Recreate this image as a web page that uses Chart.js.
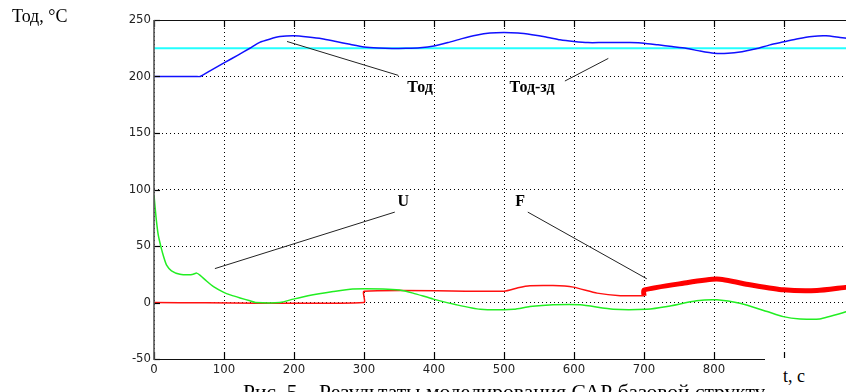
<!DOCTYPE html>
<html>
<head>
<meta charset="utf-8">
<script src="https://cdn.jsdelivr.net/npm/chart.js@4.4.1/dist/chart.umd.min.js"></script>
<style>
  html, body { margin: 0; padding: 0; background: #fff; }
  #wrap { position: relative; width: 846px; height: 392px; overflow: hidden; }
  canvas { position: absolute; left: 0; top: 0; }
  .serif { position: absolute; font-family: "Liberation Serif", "Times New Roman", serif; color: #000; white-space: nowrap; }
  #ylab { left: 12px; top: 6px; font-size: 18px; }
  #caption { left: 243px; top: 380px; font-size: 21.5px; }
  #tbox { left: 765px; top: 358px; width: 100px; height: 40px; background: #fff; }
  #tlab { left: 783px; top: 366px; font-size: 18px; }
</style>
</head>
<body>
<div id="wrap">
  <canvas id="chart" width="900" height="392"></canvas>
  <div class="serif" id="ylab">Тод, °C</div>
  <div class="serif" id="caption">Рис. 5 – Результаты моделирования САР базовой структуры</div>
  <div class="serif" id="tbox"></div>
  <div class="serif" id="tlab">t, c</div>
</div>
<script>
// time axis, s
const xTicks = [0, 100, 200, 300, 400, 500, 600, 700, 800, 900, 1000];
const yTicks = [-50, 0, 50, 100, 150, 200, 250];

// Тод
const todTime = [0, 60, 66, 80, 100, 120, 137, 151, 165, 180, 200, 220, 240, 260, 280, 300, 320, 340, 360, 380, 400, 420, 440, 460, 480, 500, 520, 540, 560, 580, 600, 620, 640, 660, 680, 700, 720, 740, 760, 780, 800, 820, 840, 860, 880, 900, 920, 940, 960, 980, 1000];
const todValue = [200, 200, 200, 205, 212, 219, 225, 230.2, 233, 235.3, 236, 235, 233.5, 231, 228.5, 226.2, 225.2, 224.8, 225, 225.5, 227, 230, 233.5, 236.5, 238.5, 239, 238.5, 237, 235, 232.5, 231, 230, 230, 230, 230, 229.5, 228, 226.5, 225, 222.5, 220.5, 220.5, 222, 224.5, 228, 230.7, 233.5, 235.5, 236, 234.5, 233];

// Тод-зд (setpoint)
const setTime = [0, 1000];
const setValue = [225, 225];

// U
const uTime = [0, 3, 6, 10, 14, 18, 25, 37, 50, 56, 61, 66, 75, 85, 99, 110, 123, 137, 145, 180, 199, 220, 256, 284, 327, 351, 370, 399, 432, 466, 514, 537, 570, 609, 656, 704, 733, 775, 804, 837, 876, 899, 923, 951, 990, 1000];
const uValue = [95, 75, 60, 49, 40, 33, 28, 25, 24.5, 25, 26, 24, 19, 14, 9.2, 6.5, 4, 1.5, 0, 0, 3, 6, 9.7, 12, 12, 11, 8.3, 3, -2, -6, -6, -3.6, -2, -2, -6, -6, -3.6, 1.5, 2.4, -0.6, -8, -12.5, -14.5, -14.5, -8, -6];

// F before and after the disturbance at 700 s
const fTime = [0, 300, 300, 500, 520, 537, 570, 599, 633, 666, 700];
const fValue = [0, 0, 10, 10, 13, 14.8, 15, 13.6, 8.3, 6, 6];
const fNoisyTime = [700, 700, 756, 804, 851, 899, 947, 990, 1000];
const fNoisyValue = [6, 11, 17, 20.7, 15.7, 11.2, 10.6, 13.6, 14];

// labels with leader lines: [text, labelX, labelY, lineFrom, lineTo]
const notes = [
  ["Тод", 380, 190, [190, 231], [349, 201]],
  ["Тод-зд", 540, 190, [587, 196], [649, 216]],
  ["U", 356, 89, [87, 30], [344, 80]],
  ["F", 523, 89, [534, 80], [704, 21]]
];

const pts = (xs, ys) => xs.map((x, i) => ({ x: x, y: ys[i] }));

const frame = {
  id: "frame",
  afterDatasetsDraw(chart) {
    const { ctx, chartArea: a, scales } = chart;
    const xs = scales.x, ys = scales.y;
    ctx.save();
    // leader lines and labels
    ctx.strokeStyle = "#222";
    ctx.lineWidth = 1;
    ctx.fillStyle = "#000";
    ctx.font = "bold 16px 'Liberation Serif', serif";
    ctx.textAlign = "center";
    ctx.textBaseline = "middle";
    notes.forEach(n => {
      ctx.beginPath();
      ctx.moveTo(xs.getPixelForValue(n[3][0]), ys.getPixelForValue(n[3][1]));
      ctx.lineTo(xs.getPixelForValue(n[4][0]), ys.getPixelForValue(n[4][1]));
      ctx.stroke();
      ctx.fillText(n[0], xs.getPixelForValue(n[1]), ys.getPixelForValue(n[2]));
    });
    // inward tick marks
    ctx.strokeStyle = "#000";
    ctx.lineWidth = 1.2;
    xTicks.forEach(v => {
      const px = Math.round(xs.getPixelForValue(v)) + 0.5;
      ctx.beginPath();
      ctx.moveTo(px, a.top); ctx.lineTo(px, a.top + 7);
      ctx.moveTo(px, a.bottom); ctx.lineTo(px, a.bottom - 7);
      ctx.stroke();
    });
    yTicks.forEach(v => {
      const py = Math.round(ys.getPixelForValue(v)) + 0.5;
      ctx.beginPath();
      ctx.moveTo(a.left, py); ctx.lineTo(a.left + 6, py);
      ctx.stroke();
    });
    // axes frame
    ctx.strokeStyle = "#111";
    ctx.lineWidth = 1.2;
    ctx.beginPath();
    ctx.moveTo(a.left, a.top + 0.5); ctx.lineTo(a.right, a.top + 0.5);
    ctx.moveTo(a.left, a.bottom + 0.5); ctx.lineTo(a.right, a.bottom + 0.5);
    ctx.stroke();
    ctx.strokeStyle = "#555";
    ctx.lineWidth = 1.6;
    ctx.beginPath();
    ctx.moveTo(a.left, a.top); ctx.lineTo(a.left, a.bottom + 1);
    ctx.stroke();
    ctx.restore();
  }
};

const tickFont = { family: "'DejaVu Sans Condensed', 'Liberation Sans Narrow', sans-serif", size: 13 };

new Chart(document.getElementById("chart"), {
  type: "line",
  data: {
    datasets: [
      { label: "Тод", data: pts(todTime, todValue), borderColor: "#1010ff", borderWidth: 1.5 },
      { label: "U", data: pts(uTime, uValue), borderColor: "#22ee22", borderWidth: 1.5 },
      { label: "F", data: pts(fTime, fValue), borderColor: "#ff1010", borderWidth: 1.5 },
      { label: "F noisy", data: pts(fNoisyTime, fNoisyValue), borderColor: "#ff0000", borderWidth: 5 },
      { label: "Тод-зд", data: pts(setTime, setValue), borderColor: "#22ffff", borderWidth: 2 }
    ]
  },
  options: {
    responsive: false,
    animation: false,
    devicePixelRatio: 1,
    elements: { point: { radius: 0 }, line: { tension: 0.2, fill: false } },
    layout: { padding: { left: 0, top: 20, right: 46, bottom: 0 } },
    plugins: { legend: { display: false }, tooltip: { enabled: false } },
    scales: {
      x: {
        type: "linear", min: 0, max: 1000,
        afterBuildTicks: s => { s.ticks = xTicks.map(v => ({ value: v })); },
        afterFit: s => { s.height = 33; },
        ticks: { font: tickFont, color: "#222", padding: 3, maxRotation: 0 },
        grid: { color: "#000", lineWidth: 1, drawTicks: false },
        border: { display: false, dash: [1, 3] }
      },
      y: {
        min: -50, max: 250,
        afterBuildTicks: s => { s.ticks = yTicks.map(v => ({ value: v })); },
        afterFit: s => { s.width = 154; },
        ticks: { font: tickFont, color: "#222", padding: 3 },
        grid: { color: "#000", lineWidth: 1, drawTicks: false },
        border: { display: false, dash: [1, 3] }
      }
    }
  },
  plugins: [frame]
});
</script>
</body>
</html>
